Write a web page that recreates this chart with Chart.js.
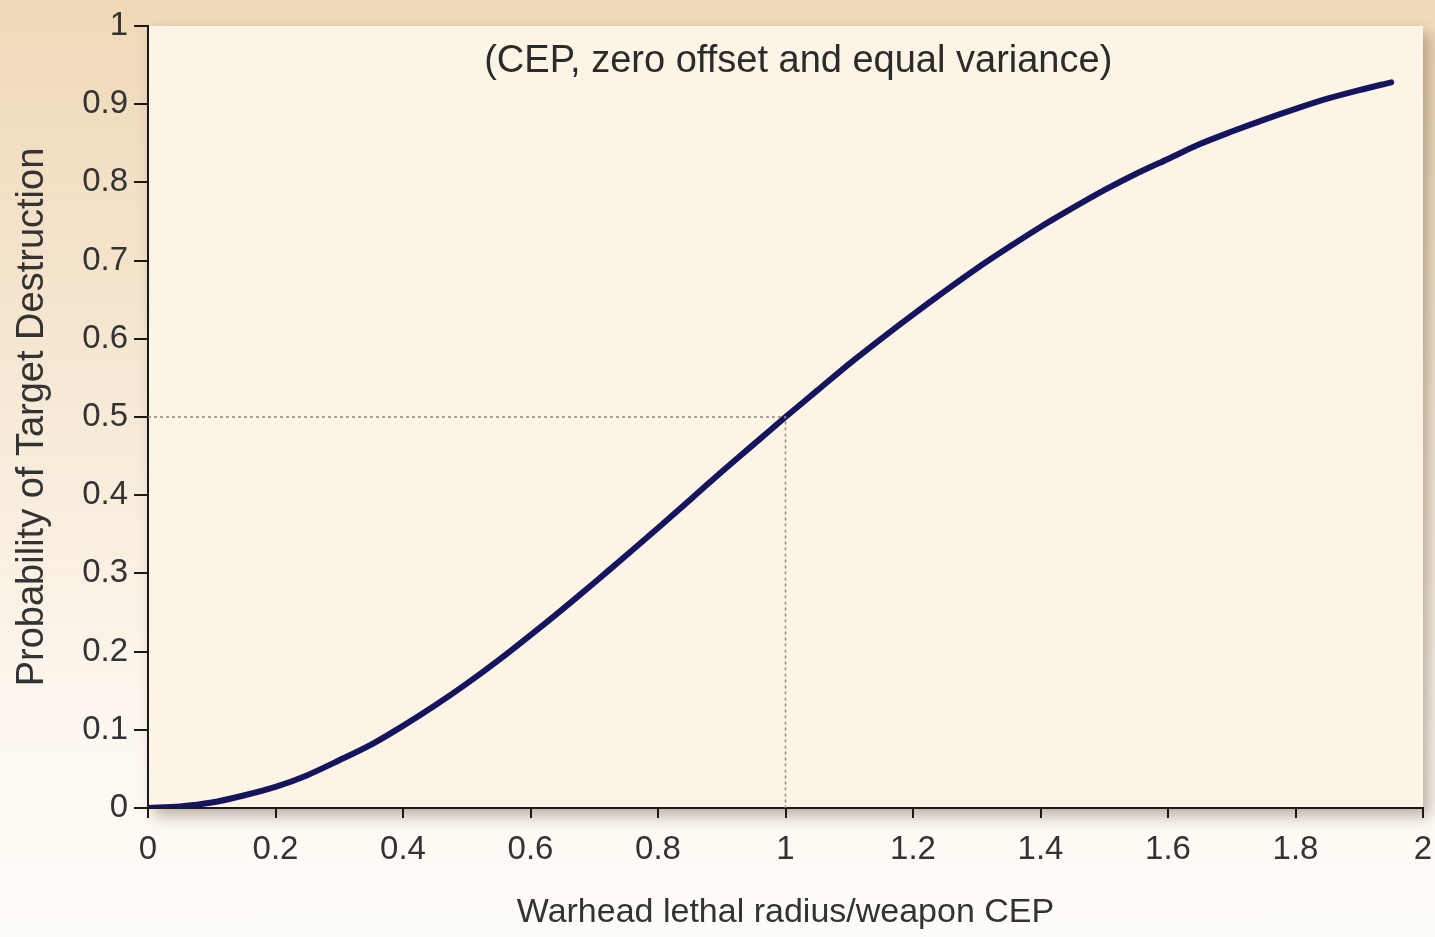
<!DOCTYPE html>
<html>
<head>
<meta charset="utf-8">
<script src="https://cdn.jsdelivr.net/npm/chart.js@4.4.0/dist/chart.umd.min.js"></script>
<style>
  html, body { margin: 0; padding: 0; }
  body {
    width: 1435px; height: 937px;
    background: linear-gradient(to bottom, #efd8b7 0%, #f5e6d0 35%, #fcf6ee 75%, #fefcf8 100%);
  }
  #wrap { position: relative; width: 1435px; height: 937px; }
</style>
</head>
<body>
<div id="wrap"><canvas id="chart"></canvas></div>
<script>
// values (lethal radius / CEP -> kill probability)
const ratio = [0, 0.05, 0.1, 0.15, 0.2, 0.25, 0.3, 0.35, 0.4, 0.45, 0.5, 0.55, 0.6, 0.65, 0.7, 0.75,
  0.8, 0.85, 0.9, 0.95, 1.0, 1.05, 1.1, 1.15, 1.2, 1.25, 1.3, 1.35, 1.4, 1.45, 1.5, 1.55,
  1.6, 1.65, 1.7, 1.75, 1.8, 1.85, 1.9, 1.95];
const probability = [0, 0.002, 0.007, 0.016, 0.027, 0.042, 0.061, 0.081, 0.105, 0.131, 0.159, 0.189,
  0.221, 0.254, 0.288, 0.323, 0.358, 0.394, 0.430, 0.465, 0.500, 0.534, 0.568, 0.600,
  0.631, 0.661, 0.690, 0.717, 0.743, 0.767, 0.790, 0.811, 0.830, 0.849, 0.865, 0.880,
  0.894, 0.907, 0.918, 0.928];

// the dotted guide at the 50% point
const guideX = [0, 1, 1];
const guideY = [0.5, 0.5, 0];

const xTickLabels = ['0', '0.2', '0.4', '0.6', '0.8', '1', '1.2', '1.4', '1.6', '1.8', '2'];
const yTickLabels = ['0', '0.1', '0.2', '0.3', '0.4', '0.5', '0.6', '0.7', '0.8', '0.9', '1'];

const noteText = '(CEP, zero offset and equal variance)';
const xTitle = 'Warhead lethal radius/weapon CEP';
const yTitle = 'Probability of Target Destruction';

const FONT = "'Liberation Sans', Arial, sans-serif";

const plotBackground = {
  id: 'plotBackground',
  beforeDraw(chart) {
    const { ctx, chartArea: a } = chart;
    ctx.save();
    ctx.shadowColor = 'rgba(60, 40, 20, 0.35)';
    ctx.shadowBlur = 14;
    ctx.shadowOffsetX = 6;
    ctx.shadowOffsetY = 8;
    ctx.fillStyle = '#fcf5e6';
    ctx.fillRect(a.left, a.top, a.right - a.left, a.bottom - a.top);
    ctx.restore();
  }
};

const noteLabel = {
  id: 'noteLabel',
  afterDatasetsDraw(chart) {
    const { ctx, scales } = chart;
    ctx.save();
    ctx.font = '38px ' + FONT;
    ctx.fillStyle = '#2b2b2b';
    ctx.textAlign = 'center';
    ctx.textBaseline = 'middle';
    ctx.fillText(noteText, scales.x.getPixelForValue(1.02), scales.y.getPixelForValue(0.955));
    ctx.restore();
  }
};

new Chart(document.getElementById('chart'), {
  type: 'line',
  data: {
    datasets: [
      {
        data: guideX.map((x, i) => ({ x: x, y: guideY[i] })),
        borderColor: '#8a8a80',
        borderWidth: 1.5,
        borderDash: [3, 3],
        pointRadius: 0,
        tension: 0
      },
      {
        data: ratio.map((x, i) => ({ x: x, y: probability[i] })),
        borderColor: '#15145e',
        borderWidth: 6,
        borderCapStyle: 'round',
        pointRadius: 0,
        tension: 0.3
      }
    ]
  },
  options: {
    responsive: true,
    maintainAspectRatio: false,
    animation: false,
    layout: { padding: { left: 0, top: 26, right: 12, bottom: 0 } },
    plugins: { legend: { display: false }, tooltip: { enabled: false } },
    scales: {
      x: {
        type: 'linear',
        min: 0,
        max: 2,
        afterFit(scale) {
          scale.height = 129;
          scale.paddingLeft = 0;
          scale.paddingRight = 0;
        },
        border: { display: true, color: '#1a1a1a', width: 2 },
        grid: { drawOnChartArea: false, drawTicks: true, tickLength: 10, color: '#1a1a1a', lineWidth: 2 },
        ticks: {
          stepSize: 0.2,
          maxRotation: 0,
          padding: 12,
          color: '#333',
          font: { family: FONT, size: 33 },
          callback: (v, i) => xTickLabels[i]
        },
        title: {
          display: true,
          text: xTitle,
          color: '#333',
          font: { family: FONT, size: 34 },
          padding: { top: 8 }
        }
      },
      y: {
        min: 0,
        max: 1,
        afterFit(scale) {
          scale.width = 148;
          scale.paddingTop = 0;
          scale.paddingBottom = 0;
        },
        border: { display: true, color: '#1a1a1a', width: 2 },
        grid: { drawOnChartArea: false, drawTicks: true, tickLength: 14, color: '#1a1a1a', lineWidth: 2 },
        ticks: {
          stepSize: 0.1,
          padding: 6,
          color: '#333',
          font: { family: FONT, size: 33 },
          callback: (v, i) => yTickLabels[i]
        },
        title: {
          display: true,
          text: yTitle,
          color: '#333',
          font: { family: FONT, size: 38 },
          padding: { top: 10, bottom: 12 }
        }
      }
    }
  },
  plugins: [plotBackground, noteLabel]
});
</script>
</body>
</html>
